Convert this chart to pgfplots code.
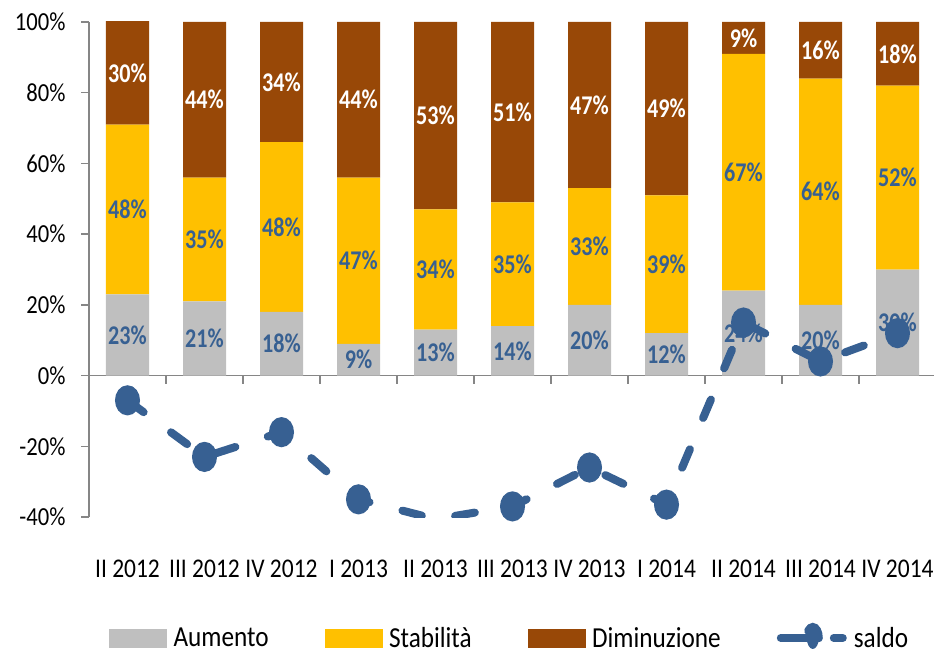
\documentclass[border=0pt]{standalone}
\usepackage{fontspec}
\setmainfont{Carlito}[FakeStretch=0.87]
\newfontfamily\labfont{Carlito}[FakeStretch=0.82]
\usepackage{pgfplots}
\usepackage{pgfplotstable}
\pgfplotsset{compat=1.18}
\definecolor{cA}{HTML}{BFBFBF}
\definecolor{cS}{HTML}{FFC000}
\definecolor{cD}{HTML}{984807}
\definecolor{cL}{HTML}{376092}
\definecolor{axgray}{HTML}{868686}

\pgfplotstableread{
x a s d saldo
0 23 48 30 -7
1 21 35 44 -23
2 18 48 34 -16
3 9 47 44 -35
4 13 34 53 -40.6
5 14 35 51 -37
6 20 33 47 -26
7 12 39 49 -36.5
8 24 67 9 15
9 20 64 16 4
10 30 52 18 12
}\data

\pgfplotsset{
  base/.style={
    width=847pt, height=495pt, scale only axis,
    xmin=-0.5, xmax=10.5, ymin=-40, ymax=100,
    enlargelimits=false,
    at={(0pt,0pt)}, anchor=south west,
  },
  lab/.style={
    forget plot, draw=none, mark=none,
    nodes near coords={\pgfmathprintnumber[assume math mode=true]{\pgfplotspointmeta}\%},
    nodes near coords align={center},
    point meta=explicit,
    every node near coord/.append style={font=\labfont\bfseries\fontsize{27}{30}\selectfont, text=#1, anchor=center},
  },
}

\begin{document}
\begin{tikzpicture}
% bars
\begin{axis}[base,
  ybar stacked, bar width=43pt,
  axis x line=middle, axis y line=left,
  axis line style={-, draw=axgray, line width=1.5pt},
  tick style={draw=axgray, line width=1.5pt},
  tick align=outside, major tick length=8pt,
  xtick={0.5,1.5,...,9.5}, xticklabels={},
  ytick={-40,-20,0,20,40,60,80,100},
  yticklabels={-40\%,-20\%,0\%,20\%,40\%,60\%,80\%,100\%},
  yticklabel style={font=\fontsize{26}{30}\selectfont, xshift=-12pt},
]
\addplot[fill=cA, draw=none] table[x=x, y=a] {\data};
\addplot[fill=cS, draw=none] table[x=x, y=s] {\data};
\addplot[fill=cD, draw=none] table[x=x, y=d] {\data};
\end{axis}
% line, labels, legend
\begin{axis}[base,
  axis x line=bottom, axis y line=none,
  axis line style={draw=none},
  xtick={0,...,10},
  xticklabels={II 2012,III 2012,IV 2012,I 2013,II 2013,III 2013,IV 2013,I 2014,II 2014,III 2014,IV 2014},
  major x tick style={draw=none},
  xticklabel style={font=\fontsize{27}{30}\selectfont, yshift=-37pt},
  clip mode=individual,
  legend columns=4,
  legend style={at={(axis description cs:0.0236,-0.2444)}, anchor=west, draw=none, fill=none, inner sep=0pt,
    font=\fontsize{29}{32}\selectfont,
    nodes={inner sep=0pt},
    /tikz/every odd column/.append style={column sep=7pt},
    /tikz/every even column/.append style={column sep=56pt}},
]
\addlegendimage{legend image code/.code={\fill[cA] (0pt,-9pt) rectangle (57pt,9pt);}}
\addlegendentry{Aumento}
\addlegendimage{legend image code/.code={\fill[cS] (0pt,-9pt) rectangle (57pt,9pt);}}
\addlegendentry{Stabilità}
\addlegendimage{legend image code/.code={\fill[cD] (0pt,-9pt) rectangle (57pt,9pt);}}
\addlegendentry{Diminuzione}

\addplot[cL, line width=8pt, dash pattern=on 20pt off 34pt, line cap=round,
  mark=*, mark size=11pt, mark options={solid, xscale=0.77, fill=cL, draw=none},
  legend image code/.code={
     \draw[solid, cL, line width=8pt, line cap=round] (4pt,0pt) -- (31pt,0pt);
     \fill[cL] (32pt,0pt) ellipse [x radius=6pt, y radius=11pt];
     \draw[solid, cL, line width=8pt, line cap=round] (53pt,0pt) -- (58pt,0pt);
     \path (0pt,0pt) -- (62pt,0pt);}]
  table[x=x, y=saldo] {\data};
\addlegendentry{saldo}

\addplot[lab=cL] table[x=x, y expr={\thisrow{a}/2}, meta=a] {\data};
\addplot[lab=cL] table[x=x, y expr={\thisrow{a}+\thisrow{s}/2}, meta=s] {\data};
\addplot[lab=white] table[x=x, y expr={(\thisrow{a}+\thisrow{s}+min(\thisrow{a}+\thisrow{s}+\thisrow{d},100))/2}, meta=d] {\data};
\end{axis}
\pgfresetboundingbox
\path[use as bounding box] (-89pt,-137pt) rectangle (845pt,517pt);
\end{tikzpicture}
\end{document}
